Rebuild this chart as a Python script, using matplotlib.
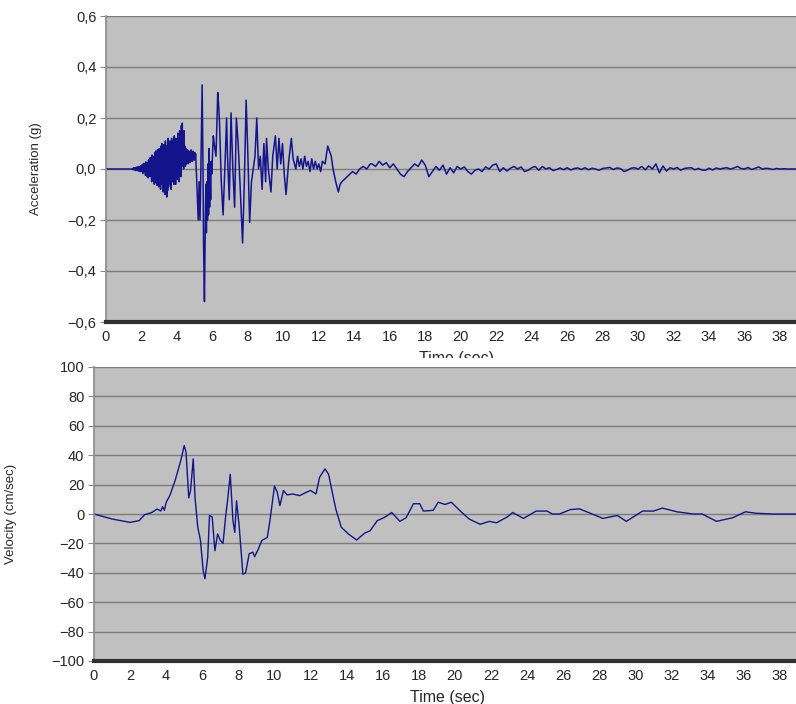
import numpy as np
import matplotlib
matplotlib.use('Agg')
import matplotlib.pyplot as plt
from matplotlib.patches import Rectangle

# ---- acceleration record (g) ----
# quiet start
acc_start_t = [0.0, 1.0, 1.475]
acc_start_g = [0.0, 0.0, 0.0]

# build-up, read every 0.025 s from 1.5 s to 5.05 s
acc_pre_g = [0.002, -0.003, 0.004, -0.002, 0.005, -0.004, 0.003, -0.006, 0.006, -0.003,
             0.008, -0.005, 0.007, -0.008, 0.01, -0.006, 0.009, -0.01, 0.012, -0.008,
             0.015, -0.01, 0.004, -0.018, 0.02, -0.012, 0.022, 0.005, 0.018, -0.025,
             0.028, -0.015, 0.01, -0.03, 0.025, -0.035, 0.035, -0.02, 0.04, -0.03,
             0.045, 0.0, 0.03, -0.05, 0.055, -0.035, 0.02, -0.045, 0.05, -0.06,
             0.065, -0.01, 0.07, -0.055, 0.05, -0.065, 0.075, -0.02, 0.06, -0.07,
             0.08, -0.055, 0.02, -0.08, 0.09, -0.06, 0.1, -0.03, 0.08, -0.09,
             0.095, -0.07, 0.04, -0.1, 0.11, -0.08, 0.09, -0.11, 0.03, -0.085,
             0.12, -0.07, 0.09, -0.02, 0.11, -0.06, 0.1, -0.08, 0.12, -0.05,
             0.08, 0.0, 0.11, -0.06, 0.13, -0.04, 0.05, -0.06, 0.12, -0.03,
             0.1, -0.04, 0.14, 0.03, 0.11, -0.05, 0.15, 0.0, 0.12, -0.03,
             0.17, 0.01, 0.18, 0.06, 0.13, 0.0, 0.15, 0.03, 0.09, 0.01,
             0.08, 0.02, 0.07, 0.05, 0.075, 0.02, 0.065, 0.035, 0.07, 0.025,
             0.06, 0.03, 0.075, 0.04, 0.065, 0.03, 0.07, 0.04, 0.06, 0.035,
             0.065, 0.04, 0.06]
acc_pre_t = 1.5 + 0.025 * np.arange(len(acc_pre_g))

# strong motion
acc_main_t = [5.1, 5.2, 5.25, 5.3, 5.35, 5.42, 5.47, 5.5, 5.55, 5.6, 5.63, 5.66, 5.69,
              5.72, 5.75, 5.78, 5.81, 5.84, 5.87, 5.9, 5.93, 5.96, 6.0, 6.05, 6.1, 6.2,
              6.3, 6.35, 6.4, 6.5, 6.6, 6.7, 6.8, 6.85, 6.95, 7.05, 7.15, 7.25, 7.35,
              7.45, 7.55, 7.7, 7.8, 7.9, 8.0, 8.1, 8.2, 8.3, 8.4, 8.5, 8.6, 8.7, 8.8,
              8.9, 9.0, 9.05, 9.15, 9.3, 9.4, 9.55, 9.65, 9.75, 9.85, 9.95, 10.05,
              10.15, 10.3, 10.45, 10.55, 10.7, 10.8, 10.9, 11.0, 11.1, 11.2, 11.3,
              11.4, 11.5, 11.6, 11.7, 11.8, 11.9, 12.0, 12.1, 12.2, 12.35, 12.5,
              12.6, 12.7, 12.8, 12.95, 13.1, 13.2, 13.3, 13.45, 13.6, 13.75, 13.9,
              14.1, 14.3, 14.5, 14.7, 14.9]
acc_main_g = [-0.02, -0.2, -0.05, -0.2, 0.0, 0.33, 0.0, -0.3, -0.52, -0.2, -0.06,
              -0.25, -0.05, -0.2, 0.02, -0.18, 0.08, -0.15, -0.02, -0.12, 0.03, -0.02,
              0.05, 0.13, 0.1, 0.05, 0.3, 0.25, 0.18, -0.05, -0.18, 0.0, 0.2, 0.05,
              -0.12, 0.22, 0.0, -0.15, 0.2, 0.1, -0.05, -0.29, -0.05, 0.27, 0.05,
              -0.21, -0.05, 0.0, 0.05, 0.2, 0.0, 0.05, -0.08, 0.1, -0.05, 0.12, 0.0,
              -0.09, 0.05, 0.13, 0.0, 0.12, 0.02, 0.1, -0.02, -0.1, 0.03, 0.12, 0.04,
              0.0, 0.05, 0.01, 0.04, 0.0, 0.05, 0.01, 0.03, -0.01, 0.04, 0.0, 0.03,
              0.0, 0.02, -0.01, 0.03, 0.02, 0.09, 0.07, 0.05, 0.0, -0.05, -0.09,
              -0.06, -0.05, -0.04, -0.03, -0.02, -0.01, -0.02, 0.0, 0.01, 0.0, 0.02]

# coda, read every 0.2 s from 15.0 s
acc_coda_g = [0.02, 0.01, 0.03, 0.015, 0.025, 0.005, 0.02, 0.0, -0.02, -0.03,
              -0.01, 0.005, 0.02, 0.01, 0.035, 0.015, -0.03, -0.01, 0.01, -0.005,
              0.015, -0.02, 0.005, -0.015, 0.01, 0.0, 0.008, -0.01, -0.02, -0.005,
              0.0, -0.01, 0.008, 0.0, 0.015, 0.02, -0.01, 0.005, -0.008, 0.003,
              0.01, 0.0, 0.008, -0.01, -0.005, 0.005, 0.01, -0.005, 0.01, 0.0,
              0.005, -0.006, -0.002, 0.004, -0.003, 0.005, -0.004, 0.002, 0.004, -0.002,
              0.005, -0.003, 0.003, 0.0, -0.005, 0.002, 0.004, 0.006, -0.002, 0.004,
              0.002, -0.01, -0.005, 0.003, 0.005, 0.0, 0.01, -0.003, 0.012, 0.0,
              0.02, -0.015, 0.012, -0.008, 0.005, 0.0, 0.006, -0.005, 0.002, 0.004,
              0.005, -0.003, 0.002, -0.004, -0.005, 0.003, -0.004, 0.004, 0.0, 0.003,
              0.005, 0.0, 0.004, 0.01, 0.002, 0.0, 0.006, -0.002, 0.003, 0.008,
              0.0, 0.003, 0.001, -0.002, 0.002, 0.0, 0.001, 0.0, 0.0, 0.0,
              0.0]
acc_coda_t = 15.0 + 0.2 * np.arange(len(acc_coda_g))

# ---- velocity record (cm/sec) ----
vel_t = [0.0, 1.0, 2.0, 2.5, 2.8, 3.2, 3.5, 3.7, 3.8, 3.9, 4.0, 4.2, 4.5, 4.8, 5.0, 5.1,
         5.25, 5.35, 5.5, 5.6, 5.75, 5.9, 6.05, 6.15, 6.3, 6.4, 6.55, 6.7, 6.85, 7.0,
         7.15, 7.3, 7.4, 7.55, 7.7, 7.8, 7.9, 8.05, 8.25, 8.4, 8.6, 8.8, 8.9, 9.1, 9.3,
         9.6, 9.75, 10.0, 10.15, 10.3, 10.5, 10.7, 11.0, 11.4, 11.8, 12.0, 12.3, 12.5,
         12.8, 13.0, 13.2, 13.4, 13.7, 14.1, 14.55, 15.0, 15.3, 15.7, 16.1, 16.5, 16.95,
         17.3, 17.7, 18.05, 18.25, 18.8, 19.07, 19.45, 19.8, 20.3, 20.8, 21.4, 21.9,
         22.3, 22.9, 23.2, 23.8, 24.5, 25.1, 25.4, 25.8, 26.4, 26.9, 27.6, 28.2, 29.0,
         29.5, 30.4, 31.0, 31.5, 32.3, 33.2, 33.7, 34.5, 35.4, 36.1, 36.7, 37.6, 39.0]
vel_v = [0.0, -3.4, -5.7, -4.5, -0.5, 1.0, 3.4, 2.0, 5.0, 2.5, 8.0, 12.5, 23.0, 36.0,
         46.6, 42.0, 11.0, 16.0, 37.5, 11.0, -9.0, -18.0, -38.6, -44.0, -29.5, -1.0, -2.0,
         -25.0, -13.6, -18.0, -20.0, -1.0, 9.0, 27.0, -4.5, -12.5, 9.0, -9.0, -41.0,
         -40.0, -27.0, -26.0, -29.0, -24.0, -18.0, -16.0, -4.5, 19.0, 15.0, 5.7, 16.0,
         13.0, 13.6, 12.5, 15.0, 16.0, 13.6, 25.0, 30.7, 27.0, 15.0, 3.4, -9.0, -13.6,
         -17.7, -13.0, -11.4, -4.5, -2.3, 1.0, -5.0, -2.5, 7.0, 7.0, 2.0, 2.5, 8.0, 6.5,
         8.0, 2.0, -3.5, -7.0, -5.0, -6.0, -2.0, 1.0, -3.0, 2.0, 2.0, 0.0, 0.0, 3.0, 3.5,
         0.0, -3.0, -1.0, -5.0, 2.0, 2.0, 4.0, 1.5, 0.0, 0.0, -5.0, -2.5, 1.5, 0.5, 0.0,
         0.0]

acc_yticks = [-0.6, -0.4, -0.2, 0.0, 0.2, 0.4, 0.6]
acc_ylabels = ['\u22120,6', '\u22120,4', '\u22120,2', '0,0', '0,2', '0,4', '0,6']
vel_yticks = [-100, -80, -60, -40, -20, 0, 20, 40, 60, 80, 100]
vel_ylabels = ['\u2212100', '\u221280', '\u221260', '\u221240', '\u221220', '0', '20', '40', '60', '80', '100']
time_ticks = list(range(0, 39, 2))

plt.rcParams['font.family'] = ['Liberation Sans', 'DejaVu Sans']

acc_t = np.concatenate([acc_start_t, acc_pre_t, acc_main_t, acc_coda_t])
acc_g = np.concatenate([acc_start_g, acc_pre_g, acc_main_g, acc_coda_g])

fig = plt.figure(figsize=(7.96, 7.04), dpi=100)
ax1 = fig.add_axes([106/796, 1-322/704, 1-106/796, (322-16)/704])
ax2 = fig.add_axes([94/796, 1-661/704, 1-94/796, (661-367)/704])

line_color = '#14148c'
grid_color = '#7d7d7d'
text_color = '#262626'


def style(ax, yticks, ylabels, ylim):
    ax.set_facecolor('#c0c0c0')
    ax.set_xlim(0, 38.9)
    ax.set_ylim(*ylim)
    ax.set_xticks(time_ticks)
    ax.set_xticklabels([str(t) for t in time_ticks], fontsize=10.5, color=text_color)
    ax.set_yticks(yticks)
    ax.set_yticklabels(ylabels, fontsize=10.5, color=text_color)
    ax.yaxis.grid(True, color=grid_color, linewidth=1.0)
    ax.set_axisbelow(True)
    for s in ['top', 'right']:
        ax.spines[s].set_visible(False)
    ax.spines['left'].set_color('#8a8a8a')
    ax.spines['left'].set_linewidth(1.2)
    ax.spines['bottom'].set_color('#303030')
    ax.spines['bottom'].set_linewidth(3.0)
    ax.tick_params(axis='x', length=0, pad=6)
    ax.tick_params(axis='y', length=4, color='#8a8a8a', pad=3)


ax1.plot(acc_t, acc_g, color=line_color, linewidth=1.1)
style(ax1, acc_yticks, acc_ylabels, (-0.6, 0.6))
ax1.set_ylabel('Acceleration (g)', fontsize=9.5, color=text_color)
ax1.yaxis.set_label_coords(-0.093, 0.5)
ax1.set_xlabel('Time (sec)', fontsize=11.5, color=text_color)
ax1.xaxis.set_label_coords(0.508, -0.095)

ax2.plot(vel_t, vel_v, color=line_color, linewidth=1.0)
style(ax2, vel_yticks, vel_ylabels, (-100, 100))
ax2.set_ylabel('Velocity (cm/sec)', fontsize=9.5, color=text_color)
ax2.yaxis.set_label_coords(-0.11, 0.5)
ax2.set_xlabel('Time (sec)', fontsize=11.5, color=text_color)
ax2.xaxis.set_label_coords(0.503, -0.1)

# the lower chart was pasted over the bottom of the upper one's axis title
fig.add_artist(Rectangle((0.3, 1-366/704), 0.6, 8/704, transform=fig.transFigure,
                         facecolor='white', edgecolor='none', zorder=10))

fig.savefig('out.png', dpi=100)
